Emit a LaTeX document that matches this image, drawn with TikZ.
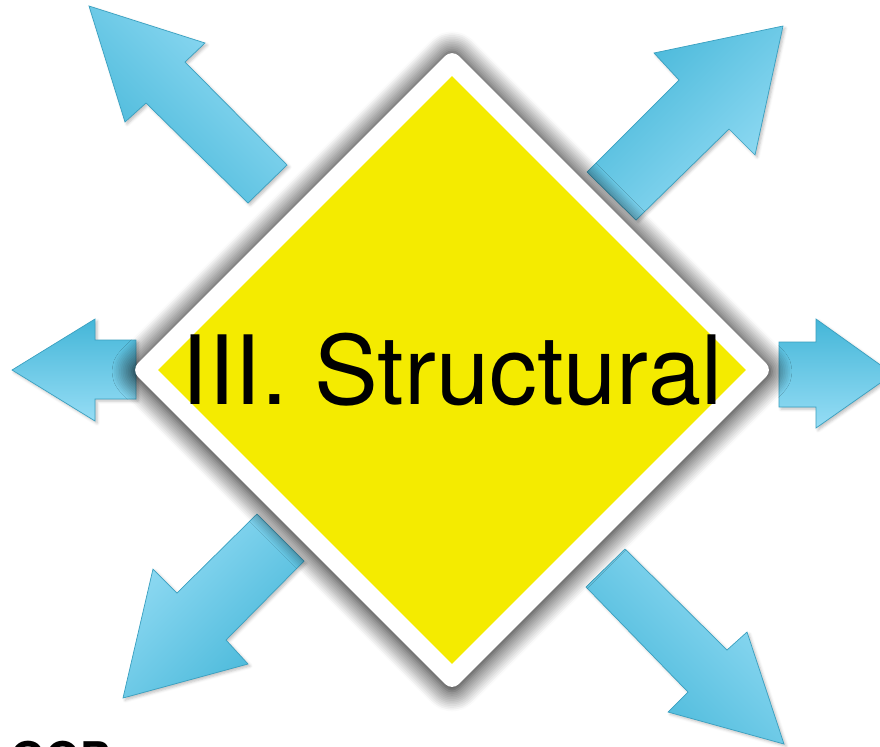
\documentclass[tikz,border=0pt]{standalone}
\usepackage{fontspec}
\newfontfamily\heros{TeX Gyre Heros}
\usepackage{xcolor}
\usetikzlibrary{shapes.geometric,shadows.blur}
\definecolor{amarillo}{RGB}{244,235,0}
\definecolor{celeste}{RGB}{68,182,216}
\definecolor{celesteclaro}{RGB}{150,221,245}
\definecolor{borde}{RGB}{58,160,192}

\begin{document}
\begin{tikzpicture}[x=0.025cm,y=-0.025cm,
                    flecha/.style={draw=borde,line width=0.5pt,line join=miter,top color=celeste,bottom color=celesteclaro,
                                   blur shadow={shadow xshift=1.5pt,shadow yshift=-1.5pt,shadow blur radius=2pt,shadow opacity=25}},
                    marco/.style={diamond,fill=white,inner sep=0pt,minimum width=16.05cm,minimum height=16.05cm,rounded corners=7pt,
                                  blur shadow={shadow xshift=0pt,shadow yshift=-1pt,shadow scale=1.01,shadow blur radius=14pt,shadow blur steps=12,shadow opacity=95}},
                    rombo/.style={diamond,fill=amarillo,inner sep=0pt,minimum width=14.7cm,minimum height=14.7cm}]
  \useasboundingbox (0,0) rectangle (880,746);
  \clip (0,0) rectangle (880,746);
  % flechas alrededor del rombo
  \path[flecha,shading angle=135] (89,6) -- (205,43) -- (185,62) -- (287,165) -- (248,203) -- (146,103) -- (125,122) -- cycle;
  \path[flecha,shading angle=45] (783,26) -- (755,155) -- (729,129) -- (636,220) -- (587,172) -- (679,80) -- (654,53) -- cycle;
  \path[flecha] (12,370) -- (95,319) -- (95,340) -- (136,340) -- (136,399) -- (95,399) -- (95,421) -- cycle;
  \path[flecha] (893,374) -- (816,428) -- (816,407) -- (779,407) -- (779,342) -- (816,342) -- (816,319) -- cycle;
  \path[flecha,shading angle=-135] (123,698) -- (153,569) -- (177,593) -- (257,514) -- (304,561) -- (226,640) -- (248,664) -- cycle;
  \path[flecha,shading angle=135] (784,744) -- (668,712) -- (688,692) -- (586,587) -- (625,549) -- (727,650) -- (747,632) -- cycle;
  % rombo central
  \node[marco] (marco) at (452,370) {};
  \node[rombo] (rombo) at (marco.center) {};
  \node[font=\heros\fontsize{68}{80}\selectfont] (titulo) at (rombo.center) {III. Structural};
  \node[anchor=north west,inner sep=0pt,font=\heros\bfseries\fontsize{32}{38}\selectfont] (gop) at (10,741) {GOP};
\end{tikzpicture}
\end{document}
